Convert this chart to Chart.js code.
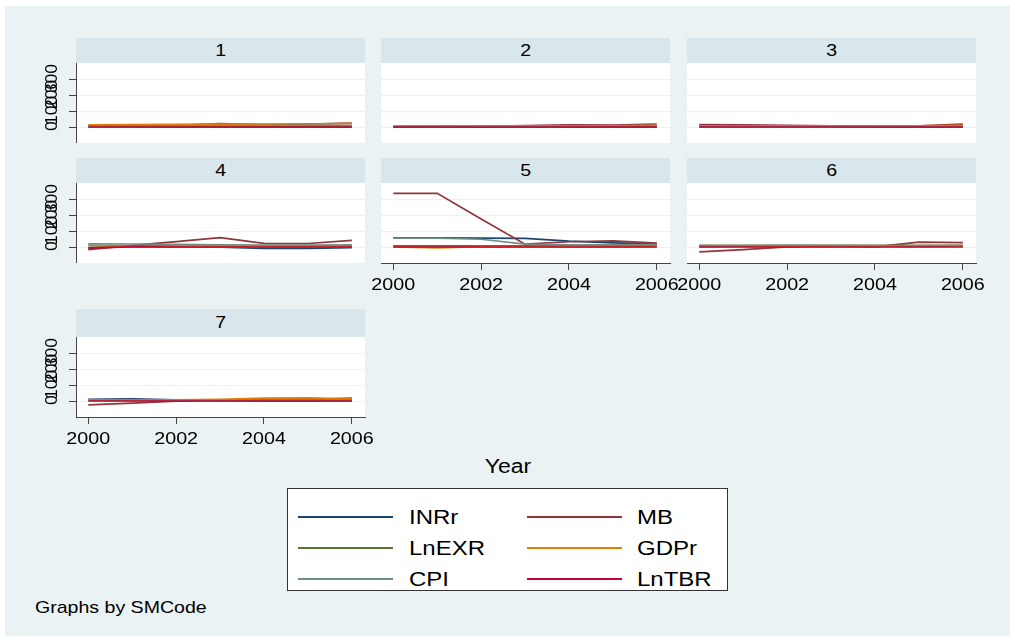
<!DOCTYPE html>
<html>
<head>
<meta charset="utf-8">
<script src="https://cdn.jsdelivr.net/npm/chart.js@4.4.0/dist/chart.umd.min.js"></script>
<style>
body{margin:0;width:1015px;height:641px;background:#fff;position:relative;overflow:hidden;font-family:"Liberation Sans",Arial,sans-serif;}
#bg{position:absolute;left:5px;top:6px;width:1005px;height:630px;background:#eaf2f3;}
.strip{position:absolute;background:#d9e6eb;color:#000;font-size:17px;text-align:center;}
.strip span{display:inline-block;transform:scaleX(1.15);}
canvas{position:absolute;}
#legend{position:absolute;left:287px;top:488px;width:439px;height:101px;border:1px solid #333;background:#fff;}
.lgline{position:absolute;height:2px;width:95px;}
.lgtext{position:absolute;font-size:20px;line-height:24px;transform:scaleX(1.2);transform-origin:left center;color:#000;white-space:nowrap;}
#xtitle{position:absolute;left:408px;width:200px;top:454px;line-height:24px;font-size:20px;text-align:center;transform:scaleX(1.15);}
#note{position:absolute;left:35px;top:597px;line-height:22px;font-size:17px;transform:scaleX(1.15);transform-origin:left center;white-space:nowrap;}
</style>
</head>
<body>
<div id="bg"></div>
<div id="xtitle">Year</div>
<div id="legend"></div>
<div id="note">Graphs by SMCode</div>
<script>
// ---- data ----
const years = [2000, 2001, 2002, 2003, 2004, 2005, 2006];
const xTicks = [2000, 2002, 2004, 2006];
const yTicks = [0, 100, 200, 300];
const panelIds = ['1', '2', '3', '4', '5', '6', '7'];
const seriesNames = ['INRr', 'MB', 'LnEXR', 'GDPr', 'CPI', 'LnTBR'];
const seriesColors = ['#1a476f', '#90353b', '#55752f', '#e37e00', '#6e8e84', '#c10534'];

// one row per panel (1..7), values for 2000..2006
const INRr = [
  [3, 2.5, 2, 2, 1.5, 1.5, 1],
  [2, 2, 2, 1.5, 1.5, 1.5, 1.5],
  [3, 3, 2.5, 2.5, 2, 2, 2],
  [-6, 5, 2, 0, -8, -8, -3],
  [59, 59, 57, 56, 38, 27, 21],
  [5, 6, 8, 7, 6, 5, 6],
  [12, 14, 8, 3, 2, 2, 3]
];
const MB = [
  [8, 10, 12, 22, 16, 19, 26],
  [3, 6, 5, 10, 14, 13, 20],
  [16, 15, 12, 9, 7, 8, 19],
  [-15, 11, 35, 60, 24, 23, 43],
  [340, 340, 178, 19, 34, 40, 25],
  [-30, -15, 2, 6, 2, 32, 29],
  [-23, -12, 0, 4, 8, 10, 20]
];
const LnEXR = [
  [4, 4, 4.5, 4.5, 5, 5, 5.5],
  [4, 4, 4, 4.5, 4.5, 4.5, 5],
  [5, 5, 5, 5, 5, 5, 5],
  [10, 8, 6, 6, 5, 5, 6],
  [8, 8, 8, 8, 9, 9, 10],
  [11, 11, 11, 11, 11, 11, 11],
  [4, 4, 4, 4, 4, 4, 4]
];
const GDPr = [
  [15, 16, 17, 19, 19, 20, 24],
  [6, 7, 7, 8, 9, 9, 11],
  [5, 6, 6, 7, 7, 8, 12],
  [12, 3, 2, 2, 2, 2, 3],
  [2, -4, 3, 2, 1, 2, 3],
  [3, 4, 5, 5, 5, 6, 6],
  [6, 8, 9, 12, 19, 21, 15]
];
const CPI = [
  [6, 7, 8, 9, 10, 11, 12],
  [4, 5, 6, 7, 8, 9, 10],
  [6, 6, 6, 6, 6, 6, 7],
  [21, 20, 18, 15, 13, 13, 15],
  [57, 57, 50, 19, 15, 15, 16],
  [7, 8, 12, 10, 9, 8, 10],
  [8, 9, 6, 5, 6, 7, 9]
];
const LnTBR = [
  [1, 1, 1, 1, 1, 1, 1],
  [1, 1, 1, 1, 1, 1, 1],
  [1, 1, 1, 1, 1, 1, 1],
  [-4, 2, 1, 1, 1, 1, 1],
  [1, 1, 1, 1, 1, 1, 1],
  [1, 1, 1, 1, 1, 1, 1],
  [1, 1, 1, 1, 1, 1, 1]
];
const seriesData = [INRr, MB, LnEXR, GDPr, CPI, LnTBR];

// ---- layout ----
const colX = [[76, 365], [381, 670], [687, 976]];
const rowY = [[63, 143], [183, 263], [337, 417]];
const stripY = [[38, 63], [158, 183], [309, 337]];
const panelRC = [[0, 0], [0, 1], [0, 2], [1, 0], [1, 1], [1, 2], [2, 0]];
const panelHasX = [false, false, false, false, true, true, true];

const plotBg = {
  id: 'plotBg',
  beforeDraw(c) {
    const a = c.chartArea, ctx = c.ctx;
    ctx.save();
    ctx.fillStyle = '#ffffff';
    ctx.fillRect(a.left, a.top, a.right - a.left, a.bottom - a.top);
    ctx.restore();
  }
};

// draws the tick labels (Stata-like stretched text) at the scales' tick positions
const tickText = {
  id: 'tickText',
  afterDraw(c, args, o) {
    const ctx = c.ctx, a = c.chartArea;
    ctx.save();
    ctx.fillStyle = '#000';
    ctx.textAlign = 'center';
    ctx.textBaseline = 'middle';
    if (o.showY) {
      const ys = c.scales.y;
      ctx.font = '16px "Liberation Sans", Arial, sans-serif';
      yTicks.forEach(v => {
        ctx.save();
        ctx.translate(a.left - 24.5, ys.getPixelForValue(v) - 1);
        ctx.rotate(-Math.PI / 2);
        ctx.scale(1.1, 1);
        ctx.fillText(String(v), 0, 1);
        ctx.restore();
      });
    }
    if (o.showX) {
      const xs = c.scales.x;
      ctx.font = '17px "Liberation Sans", Arial, sans-serif';
      xTicks.forEach(v => {
        ctx.save();
        ctx.translate(xs.getPixelForValue(v), a.bottom + 21);
        ctx.scale(1.16, 1);
        ctx.fillText(String(v), 0, 1);
        ctx.restore();
      });
    }
    ctx.restore();
  }
};

panelIds.forEach((pid, p) => {
  const [r, c] = panelRC[p];
  const [x0, x1] = colX[c];
  const [y0, y1] = rowY[r];
  const hasY = c === 0;
  const hasX = panelHasX[p];
  const padL = hasY ? 46 : 24, padR = 24, xH = hasX ? 40 : 0;

  // strip
  const st = document.createElement('div');
  st.className = 'strip';
  st.style.left = x0 + 'px';
  st.style.width = (x1 - x0) + 'px';
  st.style.top = stripY[r][0] + 'px';
  st.style.height = (stripY[r][1] - stripY[r][0]) + 'px';
  st.style.lineHeight = (stripY[r][1] - stripY[r][0]) + 'px';
  st.innerHTML = '<span>' + pid + '</span>';
  document.body.appendChild(st);

  const cv = document.createElement('canvas');
  const w = padL + (x1 - x0) + padR, h = (y1 - y0) + xH;
  cv.width = w; cv.height = h;
  cv.style.left = (x0 - padL) + 'px';
  cv.style.top = y0 + 'px';
  cv.style.width = w + 'px';
  cv.style.height = h + 'px';
  document.body.appendChild(cv);

  new Chart(cv, {
    type: 'line',
    data: {
      datasets: seriesNames.map((n, s) => ({
        label: n,
        data: years.map((yr, k) => ({ x: yr, y: seriesData[s][p][k] })),
        borderColor: seriesColors[s],
        backgroundColor: seriesColors[s],
        borderWidth: 1.7,
        pointRadius: 0,
        tension: 0,
        fill: false,
        order: 5 - s
      }))
    },
    options: {
      responsive: false,
      animation: false,
      devicePixelRatio: 1,
      layout: { padding: { left: hasY ? 0 : padL, right: padR, top: 0, bottom: 0 } },
      plugins: {
        legend: { display: false }, tooltip: { enabled: false },
        tickText: { showX: hasX, showY: hasY }
      },
      scales: {
        x: {
          type: 'linear', min: 1999.72, max: 2006.3, display: hasX,
          afterBuildTicks: s => { s.ticks = xTicks.map(v => ({ value: v })); },
          afterFit: s => { s.height = hasX ? 40 : 0; s.paddingLeft = 0; s.paddingRight = 0; },
          grid: { drawOnChartArea: false, drawTicks: true, tickLength: 7, tickColor: '#444', lineWidth: 1 },
          border: { display: true, color: '#444', width: 1 },
          ticks: { display: false }
        },
        y: {
          type: 'linear', min: -100, max: 405, display: true,
          afterBuildTicks: s => { s.ticks = yTicks.map(v => ({ value: v })); },
          afterFit: s => { s.width = hasY ? 46 : 0; s.paddingTop = 0; s.paddingBottom = 0; },
          grid: { color: '#eaf2f3', lineWidth: 1, drawTicks: hasY, tickLength: 7, tickColor: '#444' },
          border: { display: hasY, color: '#444', width: 1 },
          ticks: { display: false }
        }
      }
    },
    plugins: [plotBg, tickText]
  });
});

// ---- legend ----
const lg = document.getElementById('legend');
const rowC = [27.7, 59, 90];
seriesNames.forEach((n, s) => {
  const row = Math.floor(s / 2), col = s % 2;
  const ln = document.createElement('div');
  ln.className = 'lgline';
  ln.style.background = seriesColors[s];
  ln.style.left = (col ? 239 : 10) + 'px';
  ln.style.top = (rowC[row] - 1) + 'px';
  lg.appendChild(ln);
  const tx = document.createElement('div');
  tx.className = 'lgtext';
  tx.textContent = n;
  tx.style.left = (col ? 349 : 121) + 'px';
  tx.style.top = (rowC[row] - 12) + 'px';
  lg.appendChild(tx);
});
</script>
</body>
</html>
